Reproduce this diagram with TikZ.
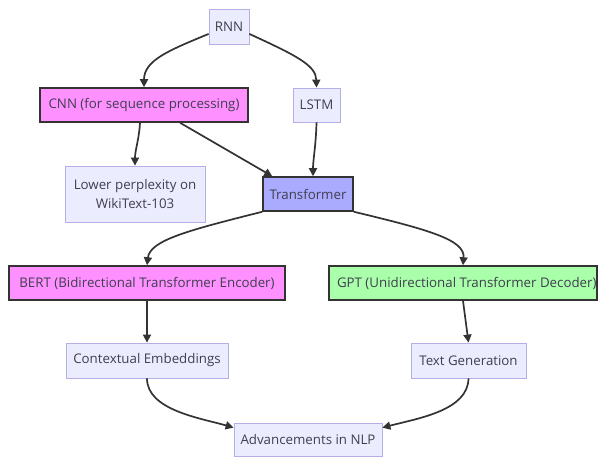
\documentclass[tikz,border=0pt]{standalone}
\usepackage{fontspec}
\setmainfont{Open Sans}
\usetikzlibrary{arrows.meta,calc}
\definecolor{defFill}{HTML}{ECECFF}
\definecolor{defStroke}{HTML}{B8AEE6}
\definecolor{txt}{HTML}{3F3F4F}
\definecolor{pinkFill}{HTML}{FF90FF}
\definecolor{blueFill}{HTML}{AAAAFF}
\definecolor{greenFill}{HTML}{AAFFAA}
\definecolor{edge}{HTML}{333333}
\tikzset{
  base/.style={rectangle, inner sep=0pt, text=txt, font=\fontsize{13.3}{19}\selectfont, align=center},
  plainbox/.style={base, fill=defFill, draw=defStroke, line width=0.8pt},
  hotbox/.style={base, draw=edge, line width=1.5pt},
  conn/.style={draw=edge, line width=1.7pt, -{Triangle[length=8pt,width=8pt]}},
}
\begin{document}
\begin{tikzpicture}[x=1pt,y=-1pt]
\clip (0,0) rectangle (598,457);
\useasboundingbox (0,0) rectangle (598,457);
\fill[white] (0,0) rectangle (598,457);
\node[plainbox, minimum width=40pt, minimum height=35pt] (rnn) at (229,26.5) {RNN};
\node[hotbox, fill=pinkFill, minimum width=208pt, minimum height=34pt] (cnn) at (144,105) {CNN (for sequence processing)};
\node[plainbox, minimum width=47pt, minimum height=34pt] (lstm) at (316.5,105) {LSTM};
\node[plainbox, minimum width=140pt, minimum height=56pt] (lower) at (135,194) {Lower perplexity on\\WikiText-103};
\node[hotbox, fill=blueFill, minimum width=90pt, minimum height=34pt] (tr) at (308,194) {Transformer};
\node[hotbox, fill=pinkFill, minimum width=276pt, minimum height=34pt] (bert) at (147,283) {BERT (Bidirectional Transformer Encoder)};
\node[hotbox, fill=greenFill, minimum width=268pt, minimum height=34pt] (gpt) at (463,283) {\makebox[252pt][l]{GPT (Unidirectional Transformer Decoder)}};
\node[plainbox, minimum width=162pt, minimum height=35pt] (ctx) at (147,360.5) {Contextual Embeddings};
\node[plainbox, minimum width=115pt, minimum height=35pt] (tg) at (468.5,360.5) {Text Generation};
\node[plainbox, minimum width=148pt, minimum height=33pt] (adv) at (308,439.5) {Advancements in NLP};

\draw[conn] (rnn.200) .. controls (170,50) and (144,60) .. (cnn.north);
\draw[conn] (rnn.-20) .. controls (295,55) and (316,65) .. (lstm.north);
\draw[conn] ($(cnn.south)+(-4,0)$) .. controls (139,140) and (135,150) .. (lower.north);
\draw[conn] ($(cnn.south)+(36,0)$) -- ($(tr.north west)+(10,0)$);
\draw[conn] (lstm.south) .. controls (316,145) and (313,160) .. ($(tr.north)+(5,0)$);
\draw[conn] (tr.south west) .. controls (190,230) and (150,240) .. (bert.north);
\draw[conn] (tr.south east) .. controls (430,230) and (465,240) .. (gpt.north);
\draw[conn] (bert.south) -- (ctx.north);
\draw[conn] (gpt.south) -- (tg.north);
\draw[conn] (ctx.south) .. controls (147,410) and (200,418) .. ($(adv.north west)+(0,5)$);
\draw[conn] (tg.south) .. controls (468,410) and (420,418) .. ($(adv.north east)+(0,5)$);
\end{tikzpicture}
\end{document}
